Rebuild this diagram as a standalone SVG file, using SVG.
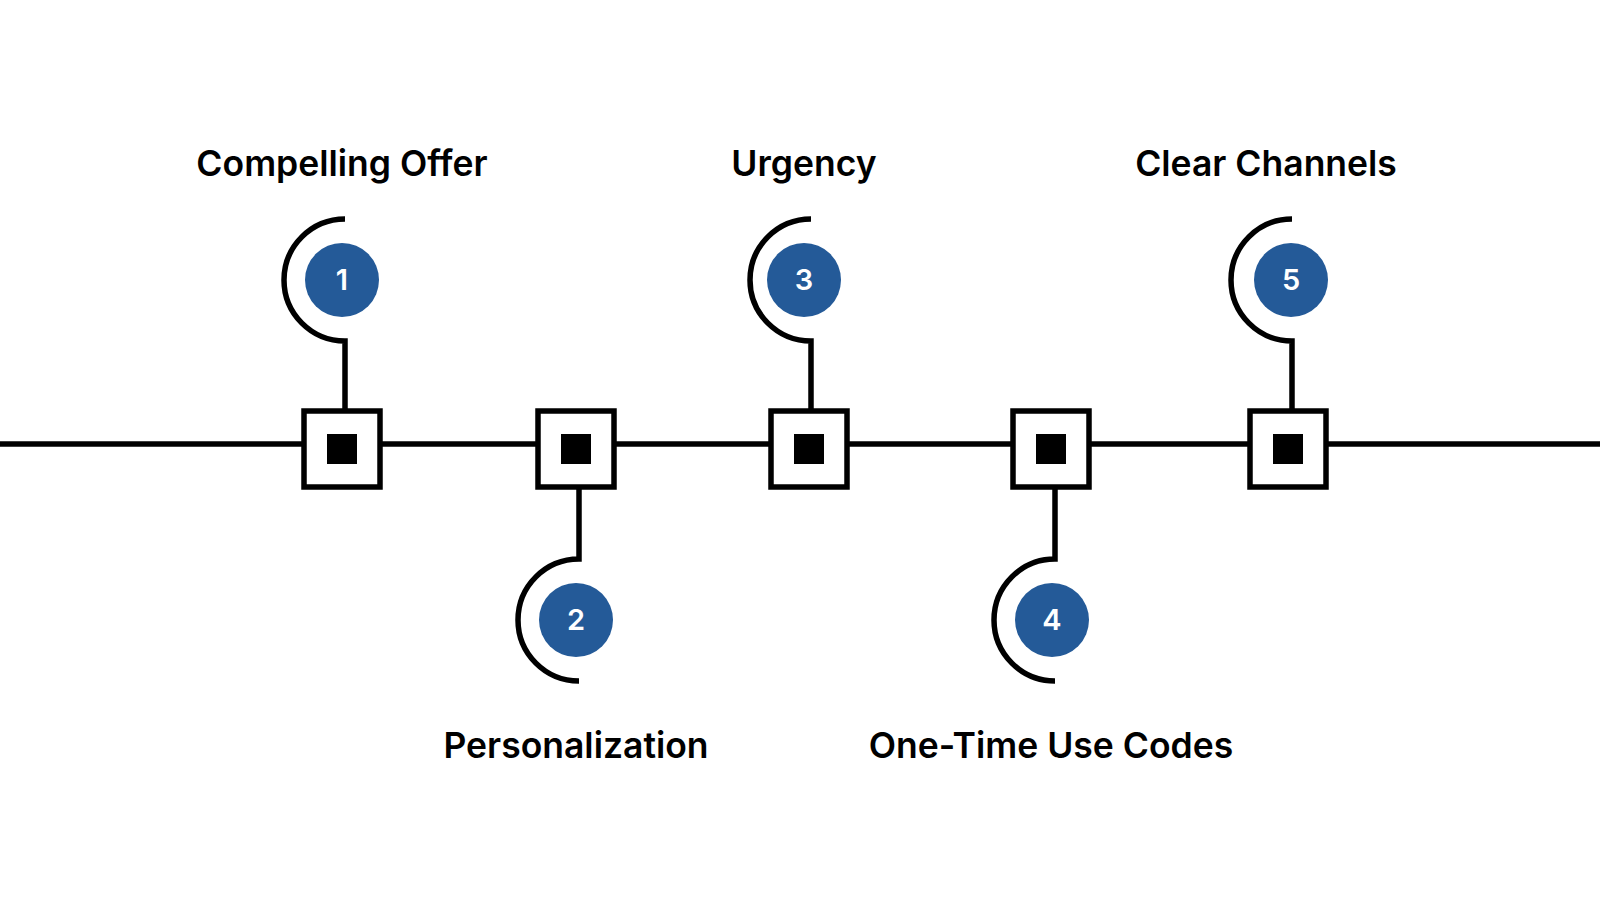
<svg xmlns="http://www.w3.org/2000/svg" width="1600" height="900" viewBox="0 0 1600 900">
<style>
.ln{stroke:#000;stroke-width:5.5;fill:none}
.sq{fill:#fff;stroke:#000;stroke-width:5.5}
.num{fill:#245a98}
.nt{font-family:Inter,"Liberation Sans",sans-serif;font-weight:600;font-size:29px;fill:#fff;text-anchor:middle}
.lb{font-family:Inter,"Liberation Sans",sans-serif;font-weight:600;font-size:35.5px;fill:#000;text-anchor:middle}
</style>
<rect width="1600" height="900" fill="#fff"/>
<g id="connectors">
<line class="ln" x1="0" y1="444" x2="1600" y2="444"/>
<path class="ln" d="M345 219 A61 61 0 0 0 345 341 V410"/>
<path class="ln" d="M579 488 V559 A61 61 0 0 0 579 681"/>
<path class="ln" d="M811 219 A61 61 0 0 0 811 341 V410"/>
<path class="ln" d="M1055 488 V559 A61 61 0 0 0 1055 681"/>
<path class="ln" d="M1292 219 A61 61 0 0 0 1292 341 V410"/>
</g>
<g id="n1"><rect class="sq" x="304" y="411" width="76" height="76"/><rect x="327" y="434" width="30" height="30"/><circle class="num" cx="342" cy="280" r="37"/><text class="nt" x="342" y="290">1</text><text class="lb" x="342" y="176">Compelling Offer</text></g>
<g id="n2"><rect class="sq" x="538" y="411" width="76" height="76"/><rect x="561" y="434" width="30" height="30"/><circle class="num" cx="576" cy="620" r="37"/><text class="nt" x="576" y="630">2</text><text class="lb" x="576" y="758">Personalization</text></g>
<g id="n3"><rect class="sq" x="771" y="411" width="76" height="76"/><rect x="794" y="434" width="30" height="30"/><circle class="num" cx="804" cy="280" r="37"/><text class="nt" x="804" y="290">3</text><text class="lb" x="804" y="176">Urgency</text></g>
<g id="n4"><rect class="sq" x="1013" y="411" width="76" height="76"/><rect x="1036" y="434" width="30" height="30"/><circle class="num" cx="1052" cy="620" r="37"/><text class="nt" x="1052" y="630">4</text><text class="lb" x="1051" y="758">One-Time Use Codes</text></g>
<g id="n5"><rect class="sq" x="1250" y="411" width="76" height="76"/><rect x="1273" y="434" width="30" height="30"/><circle class="num" cx="1291" cy="280" r="37"/><text class="nt" x="1291" y="290">5</text><text class="lb" x="1266" y="176">Clear Channels</text></g>
</svg>
